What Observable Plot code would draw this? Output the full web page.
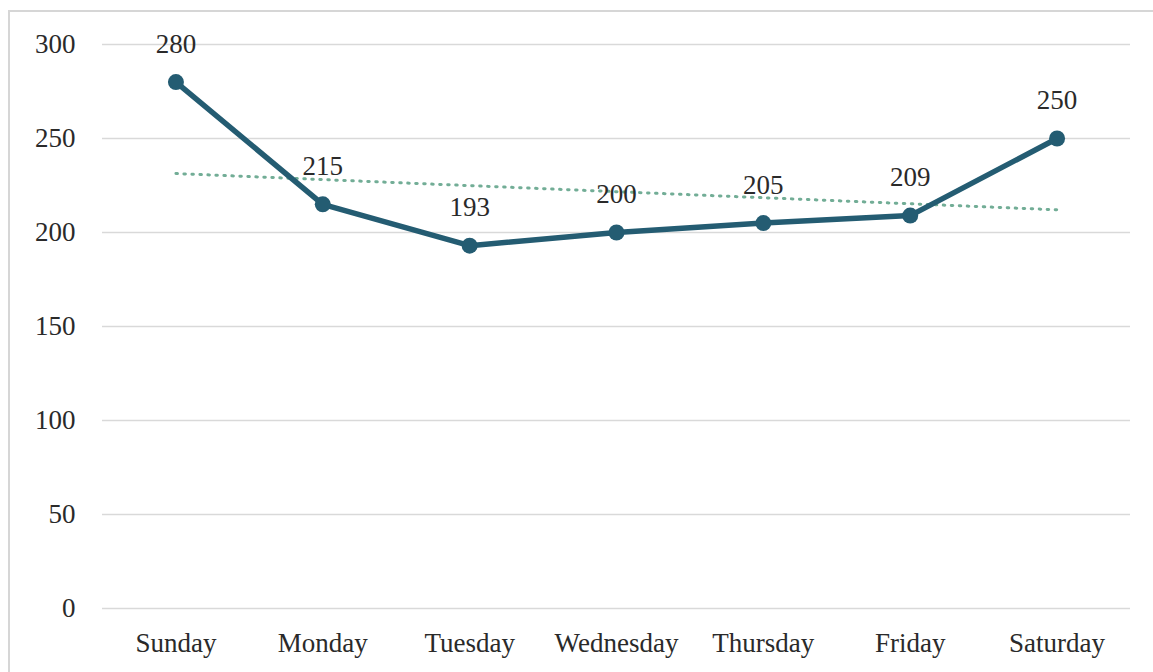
<!DOCTYPE html>
<html>
<head>
<meta charset="utf-8">
<script src="https://cdn.jsdelivr.net/npm/d3@7"></script>
<script src="https://cdn.jsdelivr.net/npm/@observablehq/plot@0.6"></script>
<style>
  html, body { margin: 0; padding: 0; background: #fff; }
  #wrap { position: relative; width: 1153px; height: 672px; overflow: hidden; }
  #frame { position: absolute; left: 8px; top: 10px; width: 1160px; height: 700px;
           border-left: 2px solid #d6d6d6; border-top: 2px solid #d6d6d6; box-sizing: border-box; }
  #chart { position: absolute; left: 0; top: 0; }
</style>
</head>
<body>
<div id="wrap"><div id="frame"></div><div id="chart"></div></div>
<script>
const days = ["Sunday", "Monday", "Tuesday", "Wednesday", "Thursday", "Friday", "Saturday"];
const values = [280, 215, 193, 200, 205, 209, 250];
const yTicks = [0, 50, 100, 150, 200, 250, 300];

const data = days.map((d, i) => ({i, day: d, v: values[i]}));
const lineColor = "#245c72";
const fs = 27;

const chart = Plot.plot({
  width: 1153,
  height: 672,
  marginLeft: 102,
  marginRight: 23,
  marginTop: 44,
  marginBottom: 64,
  style: {fontFamily: "'Liberation Serif', 'Times New Roman', serif", fontSize: fs + "px", color: "#2a2a2a", background: "transparent"},
  x: {domain: [-0.5, 6.5], label: null},
  y: {domain: [0, 300], label: null},
  marks: [
    Plot.ruleY(yTicks, {stroke: "#d9d9d9", strokeWidth: 1.5}),
    Plot.axisX({ticks: d3.range(days.length), tickFormat: d => days[d], tickSize: 0, tickPadding: 24, label: null, fontSize: fs}),
    Plot.axisY({ticks: yTicks, tickSize: 0, tickPadding: 27, label: null, fontSize: fs}),
    Plot.linearRegressionY(data, {x: "i", y: "v", ci: 0, stroke: "#72ad96", strokeWidth: 3, strokeDasharray: "1.5,6.5", strokeLinecap: "round"}),
    Plot.line(data, {x: "i", y: "v", stroke: lineColor, strokeWidth: 5.5, strokeLinejoin: "round"}),
    Plot.dot(data, {x: "i", y: "v", r: 8, fill: lineColor, stroke: null}),
    Plot.text(data, {x: "i", y: "v", text: d => String(d.v), dy: -38, fontSize: fs, fill: "#2a2a2a"})
  ]
});
document.getElementById("chart").appendChild(chart);
</script>
</body>
</html>
